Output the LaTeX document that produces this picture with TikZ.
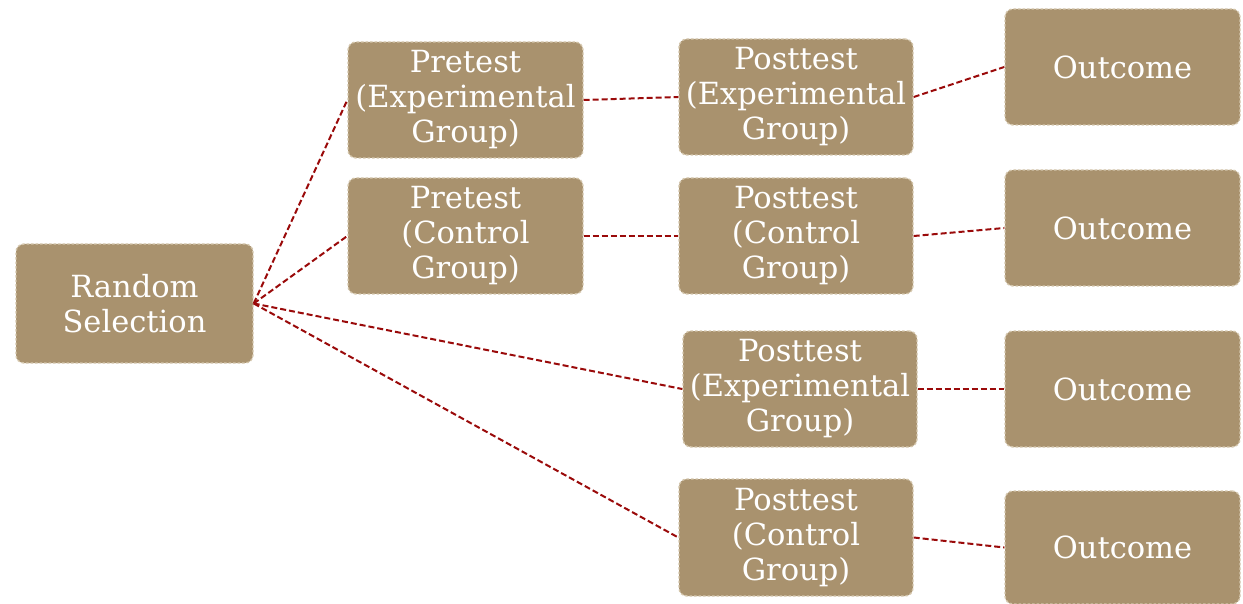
\documentclass[tikz,border=0pt]{standalone}
\usepackage{fontspec}
\setmainfont{DejaVu Serif}
\definecolor{boxfill}{HTML}{A9926E}
\definecolor{boxline}{HTML}{D4C6AC}
\definecolor{edgecol}{HTML}{9A0A0A}
\begin{document}
\begin{tikzpicture}[x=1pt,y=-1pt,
  box/.style={draw=boxline, fill=boxfill, line width=1.4pt, dash pattern=on 2.5pt off 2pt,
    rounded corners=8pt, minimum width=235pt, minimum height=116pt, inner sep=0pt,
    align=center, text=white, font=\fontsize{30.5}{35}\selectfont},
  link/.style={draw=edgecol, line width=2pt, dash pattern=on 6pt off 3pt}]
\useasboundingbox (0,0) rectangle (1243,604);
\node[box, minimum width=237pt, minimum height=119pt] (rs) at (134.5,303.5) {Random\\Selection};
\node[box] (pe) at (465.5,100) {Pretest\\(Experimental\\Group)};
\node[box] (pc) at (465.5,236) {Pretest\\(Control\\Group)};
\node[box, minimum width=234pt] (qe1) at (796,97) {Posttest\\(Experimental\\Group)};
\node[box, minimum width=234pt] (qc1) at (796,236) {Posttest\\(Control\\Group)};
\node[box, minimum width=234pt] (qe2) at (800,389) {Posttest\\(Experimental\\Group)};
\node[box, minimum width=234pt, minimum height=117pt] (qc2) at (796,537.5) {Posttest\\(Control\\Group)};
\node[box] (o1) at (1122.5,67) {Outcome};
\node[box] (o2) at (1122.5,228) {Outcome};
\node[box] (o3) at (1122.5,389) {Outcome};
\node[box, minimum height=113pt] (o4) at (1122.5,547.5) {Outcome};
\draw[link] (rs.east) -- (pe.west);
\draw[link] (rs.east) -- (pc.west);
\draw[link] (rs.east) -- (qe2.west);
\draw[link] (rs.east) -- (qc2.west);
\draw[link] (pe.east) -- (qe1.west);
\draw[link] (pc.east) -- (qc1.west);
\draw[link] (qe1.east) -- (o1.west);
\draw[link] (qc1.east) -- (o2.west);
\draw[link] (qe2.east) -- (o3.west);
\draw[link] (qc2.east) -- (o4.west);
\end{tikzpicture}
\end{document}
